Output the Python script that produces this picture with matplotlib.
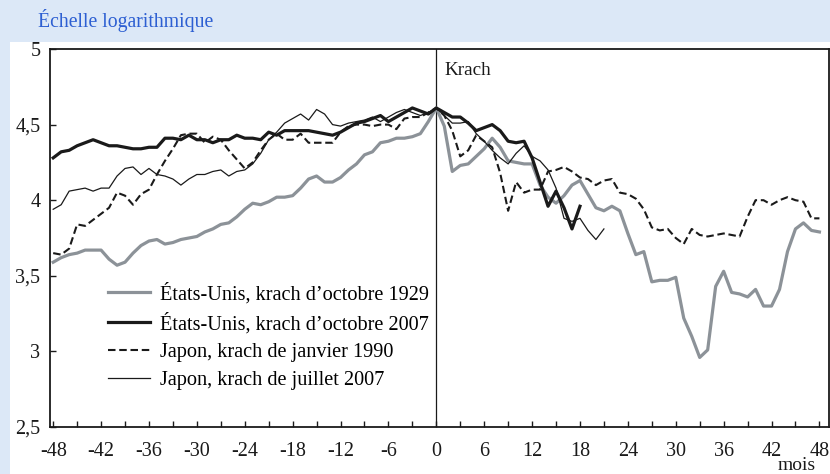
import numpy as np
import matplotlib
matplotlib.use("Agg")
import matplotlib.pyplot as plt
from matplotlib.patches import Rectangle
from matplotlib.ticker import MultipleLocator, FixedLocator

plt.rcParams['font.family'] = ['Liberation Serif', 'DejaVu Serif']

# ---- data (log index, months relative to crash) ----
months_full = list(range(-48, 49))
us1929 = [3.59, 3.62, 3.64, 3.65, 3.67, 3.67, 3.67, 3.61, 3.57, 3.59, 3.65, 3.70, 3.73, 3.74, 3.71, 3.72, 3.74, 3.75,
          3.76, 3.79, 3.81, 3.84, 3.85, 3.89, 3.94, 3.98, 3.97, 3.99, 4.02, 4.02, 4.03,
          4.08, 4.14, 4.16, 4.12, 4.12, 4.15, 4.20, 4.24, 4.30, 4.32, 4.38, 4.39, 4.41, 4.41, 4.42, 4.44, 4.52,
          4.61,
          4.49, 4.19, 4.23, 4.24, 4.29, 4.34, 4.41, 4.35, 4.26, 4.25, 4.24, 4.24,
          4.10, 4.02, 3.98, 4.03, 4.10, 4.13, 4.04, 3.95, 3.93, 3.96, 3.93, 3.78,
          3.64, 3.66, 3.46, 3.47, 3.47, 3.49, 3.22, 3.10, 2.96, 3.01, 3.43, 3.53,
          3.39, 3.38, 3.36, 3.41, 3.30, 3.30, 3.41, 3.66, 3.81, 3.85, 3.80, 3.79]

months_us2007 = list(range(-48, 19))
us2007 = [4.28, 4.32, 4.33, 4.36, 4.38, 4.40, 4.38, 4.36, 4.36, 4.35,
          4.34, 4.34, 4.35, 4.35, 4.41, 4.41, 4.40, 4.43, 4.40, 4.40,
          4.38, 4.40, 4.40, 4.43, 4.41, 4.41, 4.40, 4.45, 4.43, 4.46,
          4.46, 4.46, 4.46, 4.45, 4.44, 4.43, 4.45, 4.48, 4.51, 4.52,
          4.54, 4.56, 4.52, 4.55, 4.58, 4.61, 4.59, 4.57, 4.61,
          4.58, 4.55, 4.55, 4.51, 4.46, 4.48, 4.50, 4.46, 4.39, 4.38, 4.39, 4.28,
          4.12, 3.96, 4.06, 3.95, 3.81, 3.96]

japan1990 = [3.65, 3.64, 3.68, 3.84, 3.83, 3.87, 3.91, 3.95, 4.05, 4.03,
             3.97, 4.04, 4.07, 4.17, 4.26, 4.34, 4.43, 4.44, 4.44, 4.38,
             4.42, 4.40, 4.33, 4.27, 4.21, 4.25, 4.33, 4.40, 4.44, 4.40,
             4.40, 4.44, 4.38, 4.38, 4.38, 4.38, 4.45, 4.49, 4.50, 4.50,
             4.49, 4.50, 4.50, 4.47, 4.54, 4.55, 4.55, 4.58, 4.61,
             4.56, 4.46, 4.29, 4.33, 4.43, 4.39, 4.35, 4.18, 3.93, 4.12, 4.05, 4.07,
             4.07, 4.19, 4.20, 4.22, 4.19, 4.15, 4.14, 4.10, 4.13, 4.14, 4.05, 4.04,
             4.01, 3.94, 3.82, 3.80, 3.81, 3.75, 3.71, 3.81, 3.77, 3.76, 3.77, 3.78,
             3.77, 3.76, 3.89, 4.00, 4.00, 3.97, 4.00, 4.02, 4.00, 3.99, 3.88, 3.88]

months_japan2007 = list(range(-48, 22))
japan2007 = [3.94, 3.97, 4.06, 4.07, 4.08, 4.06, 4.08, 4.08, 4.16, 4.21,
             4.22, 4.17, 4.21, 4.17, 4.16, 4.14, 4.10, 4.14, 4.17, 4.17,
             4.19, 4.20, 4.16, 4.19, 4.20, 4.24, 4.31, 4.40, 4.45, 4.51,
             4.54, 4.57, 4.53, 4.60, 4.57, 4.50, 4.49, 4.51, 4.52, 4.53,
             4.55, 4.52, 4.55, 4.58, 4.60, 4.58, 4.56, 4.58, 4.61,
             4.56, 4.51, 4.51, 4.52, 4.44, 4.39, 4.33, 4.28, 4.24, 4.31, 4.36, 4.29,
             4.26, 4.20, 4.08, 3.88, 3.86, 3.88, 3.80, 3.74, 3.81]

labels = ["États-Unis, krach d’octobre 1929",
          "États-Unis, krach d’octobre 2007",
          "Japon, krach de janvier 1990",
          "Japon, krach de juillet 2007"]

xticks = list(range(-48, 49, 6))
yticks = [2.5, 3, 3.5, 4, 4.5, 5]
ytick_labels = ["2,5", "3", "3,5", "4", "4,5", "5"]

# ---- figure ----
W, H = 830, 474
fig = plt.figure(figsize=(W / 100, H / 100), dpi=100)
fig.patch.set_facecolor('#dce8f7')
fig.patches.append(Rectangle((10 / W, 0), 1 - 10 / W, 1 - 42 / H, transform=fig.transFigure,
                             facecolor='white', edgecolor='none', zorder=-5))
fig.text(38 / W, 1 - 21 / H, "Échelle logarithmique", color='#2d5fd2', fontsize=14.2,
         ha='left', va='center')

ax = fig.add_axes([50 / W, 1 - 427 / H, 779 / W, 378 / H])
ax.set_zorder(2)
ax.set_facecolor('white')

fs_tick = 14.5
fs_leg = 14.6
grey = '#8c9298'
blk = '#1a1a1a'
ax.plot(months_full, us1929, color=grey, lw=2.3, label=labels[0], zorder=3)
ax.plot(months_us2007, us2007, color=blk, lw=2.3, label=labels[1], zorder=5)
ax.plot(months_full, japan1990, color=blk, lw=1.5, dashes=(3.6, 1.8), label=labels[2], zorder=4)
ax.plot(months_japan2007, japan2007, color=blk, lw=0.9, label=labels[3], zorder=6)

ax.axvline(0, color=blk, lw=0.9, zorder=2)
ax.text(1.0, 4.855, "Krach", fontsize=13.8, ha='left', va='center', color=blk)

ax.set_xlim(-48.4, 49.2)
ax.set_ylim(2.5, 5)
ax.xaxis.set_major_locator(FixedLocator(xticks))
ax.xaxis.set_minor_locator(MultipleLocator(3))
ax.set_xticklabels([str(v) for v in xticks])
ax.set_yticks(yticks)
ax.set_yticklabels(ytick_labels)
ax.tick_params(axis='both', which='both', direction='in', length=4.5, width=1, colors=blk,
               labelsize=fs_tick, top=False, right=False)
ax.tick_params(axis='x', which='major', pad=11)
ax.tick_params(axis='y', which='major', pad=7)
for s in ax.spines.values():
    s.set_linewidth(1.3)
    s.set_color(blk)

ax.text((797 - 50) / 779, (427 - 466) / 378, "mois", transform=ax.transAxes, fontsize=14,
        ha='center', va='center', color=blk)

leg = ax.legend(loc='lower left', bbox_to_anchor=(0.0745, 0.098), frameon=False, fontsize=fs_leg,
                handlelength=2.07, handletextpad=0.49, labelspacing=0.42, borderpad=0, borderaxespad=0)

fig.savefig("out.png", dpi=100, facecolor=fig.get_facecolor())
